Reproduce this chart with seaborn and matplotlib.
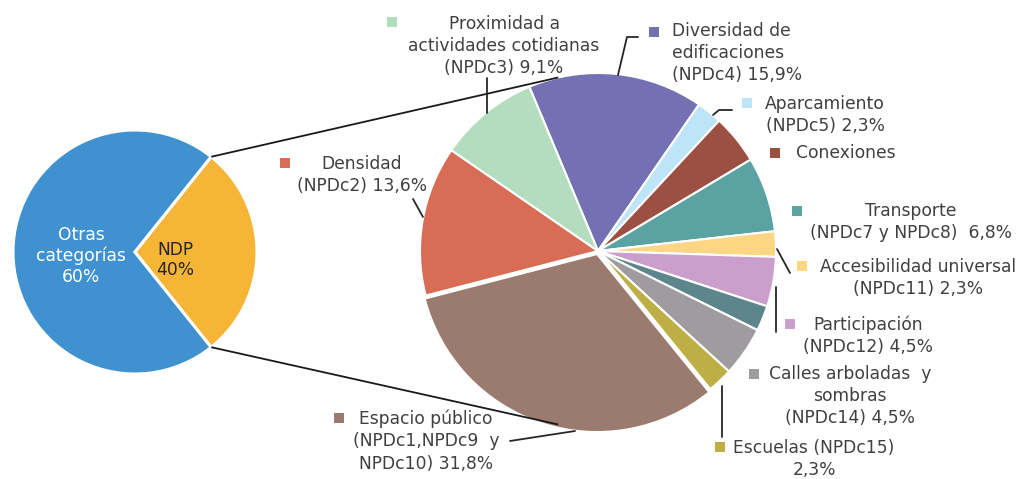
import numpy as np
import matplotlib
matplotlib.use('Agg')
import matplotlib.pyplot as plt
import seaborn as sns

# --- datos ---
izq_categorias = ['Otras categorías', 'NDP']
izq_valores = [71.5, 28.5]          # tamaño visual de las porciones
izq_textos = ['Otras\ncategorías\n60%', 'NDP\n40%']
izq_colores = ['#3F91CF', '#F7B538']

der_categorias = ['Diversidad de edificaciones', 'Aparcamiento', 'Conexiones', 'Transporte',
                  'Accesibilidad universal', 'Participación', 'Otros', 'Calles arboladas y sombras',
                  'Escuelas', 'Espacio público', 'Densidad', 'Proximidad a actividades cotidianas']
der_valores = [15.9, 2.3, 4.5, 6.8, 2.3, 4.5, 2.3, 4.5, 2.3, 31.8, 13.6, 9.1]
der_colores = ['#7370B3', '#BDE4F7', '#9C5042', '#5BA3A2', '#FDD684', '#CB9FCB',
               '#5C868C', '#A09B9E', '#BDAF45', '#9B7A70', '#D96C55', '#B4DCBE']
der_textos = ['Diversidad de\nedificaciones\n(NPDc4) 15,9%', 'Aparcamiento\n(NPDc5) 2,3%', 'Conexiones',
              'Transporte\n(NPDc7 y NPDc8)  6,8%', 'Accesibilidad universal\n(NPDc11) 2,3%',
              'Participación\n(NPDc12) 4,5%', None, 'Calles arboladas  y\nsombras\n(NPDc14) 4,5%',
              'Escuelas (NPDc15)\n2,3%', 'Espacio público\n(NPDc1,NPDc9  y\nNPDc10) 31,8%',
              'Densidad\n(NPDc2) 13,6%', 'Proximidad a\nactividades cotidianas\n(NPDc3) 9,1%']

# --- layout (pixeles, y hacia abajo) ---
W, H = 1021, 479
cx_izq, cy_izq, r_izq = 135, 252, 122
cx_der, cy_der, r_der = 598, 251, 178

# posición del texto (x, y, alineación) y del cuadrado de leyenda
pos_texto = [(672, 53, 'left'), (825, 115, 'center'), (846, 153, 'center'), (911, 222, 'center'),
             (918, 278, 'center'), (868, 336, 'center'), None, (850, 396, 'center'),
             (814, 459, 'center'), (426, 441, 'center'), (362, 175, 'center'), (504, 46, 'center')]
pos_cuadro = [(654, 32), (747, 103), (775, 153), (797, 211), (802, 266), (790, 324), None,
              (754, 374), (720, 447), (339, 418), (285, 163), (392, 22)]
guias = [[(638, 37), (627, 37), (618, 75)], [(732, 110), (719, 110), (713, 115)], None, None,
         [(777, 249), (790, 273)], [(776, 287), (776, 332)], None, None,
         [(722, 386), (722, 437)], [(510, 441), (575, 431)], [(413, 199), (423, 217)],
         [(487, 78), (487, 113)]]

sns.set_theme(style='white')
plt.rcParams['font.family'] = ['DejaVu Sans']
color_texto = '#404040'
fs = 12.3
ls = 1.32

fig = plt.figure(figsize=(W / 100, H / 100), dpi=100)
ax = fig.add_axes([0, 0, 1, 1])

# pie izquierdo (eje y invertido -> ángulos espejados)
ang_izq = izq_valores[1] / 100 * 360 / 2
ax.pie(izq_valores, colors=izq_colores, center=(cx_izq, cy_izq), radius=r_izq,
       startangle=-ang_izq, counterclock=False, frame=True,
       wedgeprops=dict(edgecolor='white', linewidth=2.2))

# pie derecho (explode va en unidades de datos)
explode = [0.018 * r_der if c == 'Espacio público' else 0 for c in der_categorias]
ax.pie(der_valores, colors=der_colores, center=(cx_der, cy_der), radius=r_der,
       startangle=-112.7, counterclock=True, explode=explode, frame=True,
       wedgeprops=dict(edgecolor='white', linewidth=1.5))
ax.set_xlim(0, W)
ax.set_ylim(H, 0)
ax.set_aspect('equal')
ax.axis('off')

# textos pie izquierdo
ax.text(81, 256, izq_textos[0], ha='center', va='center', color='white', fontsize=fs, linespacing=1.2)
ax.text(175, 260, izq_textos[1], ha='center', va='center', color='#262626', fontsize=fs, linespacing=1.2)

# líneas de conexión entre pies
a = np.radians(ang_izq)
b = np.radians(102.9)
for s in (1, -1):
    p0 = (cx_izq + r_izq * np.cos(a), cy_izq - s * r_izq * np.sin(a))
    p1 = (cx_der + r_der * np.cos(b), cy_der - s * r_der * np.sin(b))
    ax.plot([p0[0], p1[0]], [p0[1], p1[1]], color='#1a1a1a', lw=1.3, solid_capstyle='butt')

# etiquetas pie derecho
for txt, pt, pc, g, col in zip(der_textos, pos_texto, pos_cuadro, guias, der_colores):
    if txt is None:
        continue
    ax.text(pt[0], pt[1], txt, ha=pt[2], va='center', multialignment=pt[2],
            color=color_texto, fontsize=fs, linespacing=ls)
    ax.scatter([pc[0]], [pc[1]], marker='s', s=48, color=col, linewidths=0)
    if g is not None:
        xs, ys = zip(*g)
        ax.plot(xs, ys, color='#262626', lw=1.3)

fig.savefig('out.png', dpi=100)
